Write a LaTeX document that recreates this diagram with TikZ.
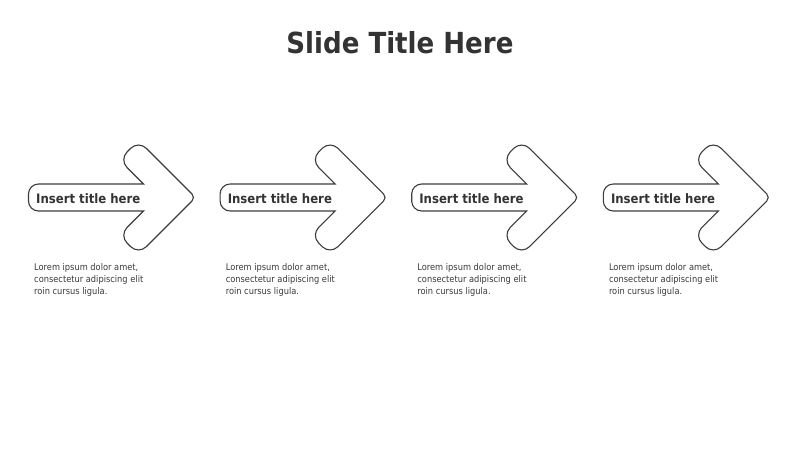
\documentclass[tikz,border=0pt]{standalone}
\usepackage{fontspec}
\setmainfont{DejaVu Sans Condensed}[BoldFont={DejaVu Sans Condensed Bold}]
\definecolor{ink}{HTML}{333333}
\definecolor{lineink}{HTML}{3C3C3C}
\definecolor{bodyink}{HTML}{3A3A3A}
\tikzset{
  slidetitle/.style={font=\bfseries\fontsize{29}{34}\selectfont, text=ink, inner sep=0pt, anchor=base},
  arrowline/.style={draw=lineink, line width=1.1pt, fill=white},
  steptitle/.style={font=\bfseries\fontsize{13}{15}\selectfont, text=ink, inner sep=0pt, anchor=base west},
  stepbody/.style={font=\fontsize{9.2}{12}\selectfont, text=bodyink, inner sep=0pt, anchor=base west, align=left}
}
\begin{document}
\begin{tikzpicture}[x=1pt,y=-1pt]
\useasboundingbox (0,0) rectangle (800,450);
\fill[white] (0,0) rectangle (800,450);
\node[slidetitle] (title) at (400,53) {Slide Title Here};
\foreach \i in {0,1,2,3}{
  \begin{scope}[shift={(\i*191.6,0)}]
    \draw[arrowline] (28.5,184) -- (143.5,184) [rounded corners=11pt] -- (119.25,159.75) -- (138.5,140.5) [rounded corners=5pt] -- (195.5,197.5) [rounded corners=11pt] -- (138.5,254.5) -- (119.25,235.25) [sharp corners] -- (143.5,211) [rounded corners=10pt] -- (28.5,211) -- cycle;
    \node[steptitle] (t\i) at (36,203.5) {Insert title here};
    \node[stepbody] (b\i) at (34,294) {Lorem ipsum dolor amet,\\consectetur adipiscing elit\\roin cursus ligula.};
  \end{scope}
}
\end{tikzpicture}
\end{document}
